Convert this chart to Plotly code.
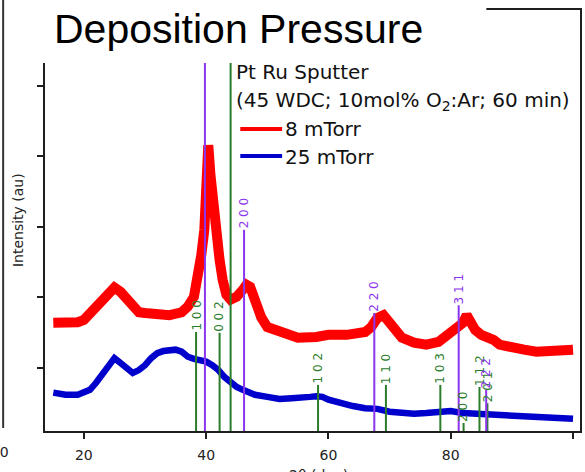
import plotly.graph_objects as go

# ---- data ----
theta_8 = [15, 17, 19, 20, 21, 22, 23, 24, 25, 26, 27, 28, 29, 30, 32, 34, 36, 37, 38, 38.6,
           39.2, 39.7, 40.0, 40.35, 40.7, 41.2, 41.7, 42.2, 42.7, 43.3, 44, 45, 46, 46.6, 47.2,
           48, 49, 50, 52, 54, 55, 58, 60, 63, 65, 66, 67, 68, 69, 70, 71, 72, 74, 76, 78, 79,
           80, 81, 82, 82.6, 83, 84, 85, 86, 87, 88, 90, 92, 94, 96, 98, 100]
int_8 = [1.64, 1.64, 1.65, 1.68, 1.78, 1.87, 1.99, 2.06, 2.14, 2.08, 1.97, 1.87, 1.79, 1.78, 1.78,
         1.75, 1.79, 1.87, 2.01, 2.25, 2.60, 2.96, 3.60, 4.16, 3.74, 3.24, 2.96, 2.53, 2.25, 2.04,
         1.97, 2.01, 2.11, 2.18, 2.15, 1.92, 1.72, 1.58, 1.51, 1.47, 1.43, 1.44, 1.47, 1.47, 1.50,
         1.51, 1.58, 1.71, 1.75, 1.64, 1.51, 1.43, 1.36, 1.33, 1.37, 1.43, 1.50, 1.57, 1.64, 1.75,
         1.68, 1.54, 1.47, 1.44, 1.40, 1.33, 1.28, 1.26, 1.23, 1.23, 1.23, 1.26]

theta_25 = [15, 17, 19, 20, 21, 22, 23, 24, 25, 26, 27, 28, 29, 30, 31, 32, 33, 34, 35, 36, 37, 38,
            39, 40, 41, 42, 43, 44, 45, 46, 47, 48, 50, 52, 54, 55, 57, 58, 59, 60, 62, 64, 66, 68,
            70, 72, 74, 76, 78, 80, 82, 84, 86, 88, 90, 92, 94, 96, 98, 100]
int_25 = [0.65, 0.62, 0.62, 0.66, 0.69, 0.79, 0.90, 1.04, 1.14, 1.07, 1.00, 0.93, 0.97, 1.04, 1.14,
          1.21, 1.24, 1.26, 1.26, 1.23, 1.16, 1.13, 1.11, 1.09, 1.04, 0.97, 0.87, 0.80, 0.73, 0.69,
          0.65, 0.62, 0.59, 0.56, 0.57, 0.57, 0.59, 0.60, 0.59, 0.55, 0.50, 0.46, 0.43, 0.42, 0.38,
          0.36, 0.35, 0.36, 0.38, 0.39, 0.36, 0.35, 0.33, 0.32, 0.31, 0.31, 0.29, 0.28, 0.28, 0.28]

# Pt (fcc) reference reflections
pt_pos = [39.8, 46.2, 67.5, 81.3, 85.8]
pt_lbl = ["", "2 0 0", "2 2 0", "3 1 1", "2 2 2"]
pt_top = [6.08, 2.96, 1.78, 1.89, 0.69]
# Ru (hcp) reference reflections
ru_pos = [38.35, 42.2, 44.0, 58.3, 69.4, 78.3, 82.1, 84.7, 86.0]
ru_lbl = ["1 0 0", "0 0 2", "", "1 0 2", "1 1 0", "1 0 3", "2 0 0", "1 1 2", "2 0 1"]
ru_top = [1.51, 1.50, 6.08, 0.76, 0.76, 0.76, 0.22, 0.73, 0.50]

x_ticks = [20, 40, 60, 80, 100]
y_ticks = [1, 2, 3, 4, 5]
x_range = [13.645, 101.14]
y_range = [0.106, 6.078]

series_names = ["8 mTorr", "25 mTorr"]
series_colors = ["#ff0000", "#0000cc"]
PT_COLOR = "#8a35ee"
RU_COLOR = "#2b7d2b"
AXIS = "#1e1e1e"
FONT = "DejaVu Sans"

# ---- layout helpers ----
W, H = 585, 472
L, R, T, B = 45, 3, 10, 41
PW, PH = W - L - R, H - T - B


def px(x):
    return (x - L) / PW


def py(y):
    return (H - B - y) / PH


fig = go.Figure()
fig.add_trace(go.Scatter(x=theta_8, y=int_8, mode="lines", name=series_names[0],
                         line=dict(color=series_colors[0], width=10), showlegend=False))
fig.add_trace(go.Scatter(x=theta_25, y=int_25, mode="lines", name=series_names[1],
                         line=dict(color=series_colors[1], width=6.5), showlegend=False))


def stick_trace(pos, top, color):
    xs, ys = [], []
    for p, t in zip(pos, top):
        xs += [p, p, None]
        ys += [y_range[0], t, None]
    return go.Scatter(x=xs, y=ys, mode="lines", line=dict(color=color, width=2),
                      showlegend=False, hoverinfo="skip")


fig.add_trace(stick_trace(ru_pos, ru_top, RU_COLOR))
fig.add_trace(stick_trace(pt_pos, pt_top, PT_COLOR))

annotations = []
for pos, lbl, top, col in [(ru_pos, ru_lbl, ru_top, RU_COLOR), (pt_pos, pt_lbl, pt_top, PT_COLOR)]:
    for p, l, t in zip(pos, lbl, top):
        if l:
            annotations.append(dict(x=p, y=t, xref="x", yref="y", text=l, showarrow=False,
                                    textangle=-90, xanchor="center", yanchor="bottom",
                                    font=dict(family=FONT, size=12, color=col), borderpad=0))

# title
annotations.append(dict(x=px(52), y=py(29), xref="paper", yref="paper", text="Deposition Pressure",
                        showarrow=False, xanchor="left", yanchor="middle",
                        font=dict(family="Liberation Sans", size=41, color="black")))
# legend text
annotations.append(dict(x=px(235), y=py(72), xref="paper", yref="paper", text="Pt Ru Sputter",
                        showarrow=False, xanchor="left", yanchor="middle",
                        font=dict(family=FONT, size=20, color="#111")))
annotations.append(dict(x=px(235), y=py(101), xref="paper", yref="paper",
                        text="(45 WDC; 10mol% O<sub>2</sub>:Ar; 60 min)",
                        showarrow=False, xanchor="left", yanchor="middle",
                        font=dict(family=FONT, size=20, color="#111")))
for name, yy in zip(series_names, [129, 157]):
    annotations.append(dict(x=px(284), y=py(yy), xref="paper", yref="paper", text=name,
                            showarrow=False, xanchor="left", yanchor="middle",
                            font=dict(family=FONT, size=20, color="#111")))
# axis titles
annotations.append(dict(x=px(18), y=py(220), xref="paper", yref="paper", text="Intensity (au)",
                        showarrow=False, textangle=-90, xanchor="center", yanchor="middle",
                        font=dict(family=FONT, size=14, color="#222")))
annotations.append(dict(x=px(320), y=py(465), xref="paper", yref="paper", text="2θ (deg)",
                        showarrow=False, xanchor="center", yanchor="top",
                        font=dict(family=FONT, size=14, color="#222")))
# neighbouring panel's tick label, cut at the edge
annotations.append(dict(x=px(11), y=py(452), xref="paper", yref="paper", text="100",
                        showarrow=False, xanchor="right", yanchor="middle",
                        font=dict(family=FONT, size=14, color="#222")))

shapes = [
    # white title panel covering top of plot
    dict(type="rect", xref="paper", yref="paper", x0=px(8), x1=px(488), y0=py(63), y1=py(-5),
         fillcolor="white", line=dict(width=0), layer="above"),
    # frame of neighbouring panel
    dict(type="line", xref="paper", yref="paper", x0=px(3), x1=px(3), y0=py(-5), y1=py(428),
         line=dict(color="#333", width=2), layer="above"),
    # legend samples
    dict(type="line", xref="paper", yref="paper", x0=px(241), x1=px(283), y0=py(129), y1=py(129),
         line=dict(color=series_colors[0], width=4), layer="above"),
    dict(type="line", xref="paper", yref="paper", x0=px(241), x1=px(283), y0=py(156), y1=py(156),
         line=dict(color=series_colors[1], width=4), layer="above"),
]

fig.update_layout(
    width=W, height=H,
    margin=dict(l=L, r=R, t=T, b=B),
    paper_bgcolor="white", plot_bgcolor="white",
    annotations=annotations, shapes=shapes,
    xaxis=dict(range=x_range, tickvals=x_ticks, ticks="outside", ticklen=6, tickwidth=1.5,
               tickcolor=AXIS, showline=True, linecolor=AXIS, linewidth=2, mirror=True,
               showgrid=False, zeroline=False, ticklabelstandoff=4,
               tickfont=dict(family=FONT, size=14, color="#222")),
    yaxis=dict(range=y_range, tickvals=y_ticks, ticks="outside", ticklen=6, tickwidth=1.5,
               tickcolor=AXIS, showticklabels=False, showline=True, linecolor=AXIS, linewidth=2,
               mirror=True, showgrid=False, zeroline=False),
)

fig.write_html("out.html")
